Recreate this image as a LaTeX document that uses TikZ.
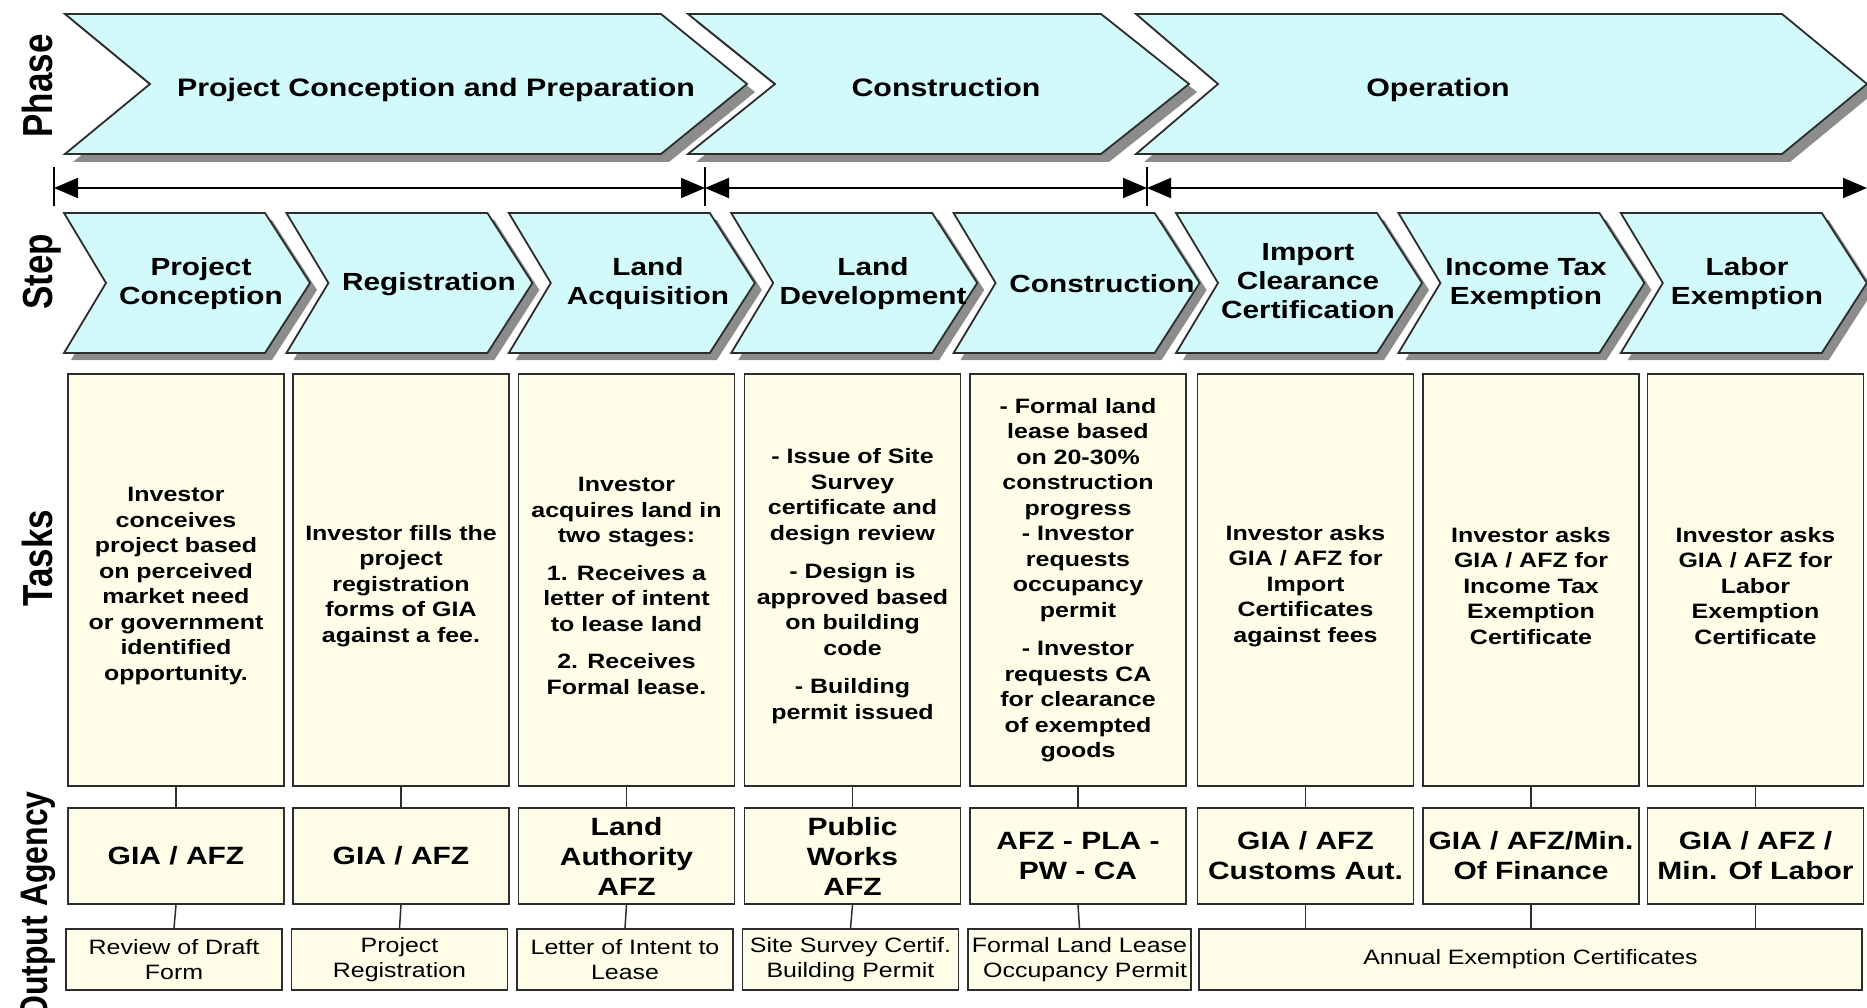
\documentclass[tikz,border=0pt]{standalone}
\usepackage{fontspec}
\usepackage{graphicx}
\setmainfont{Liberation Sans}
\newfontfamily\arst[FakeStretch=1.2]{Liberation Sans}
\usetikzlibrary{arrows.meta}
\definecolor{chevfill}{RGB}{210,250,250}
\definecolor{boxfill}{RGB}{253,253,232}
\definecolor{shadowc}{RGB}{140,140,140}
\definecolor{edgec}{RGB}{45,45,45}
\newcommand\FPh{\arst\bfseries\fontsize{25.3}{30}\selectfont}
\newcommand\FSt{\arst\bfseries\fontsize{24.8}{29}\selectfont}
\newcommand\FTk{\arst\bfseries\fontsize{20.8}{25.5}\selectfont}
\newcommand\FAg{\arst\bfseries\fontsize{25}{30}\selectfont}
\newcommand\FOu{\arst\fontsize{20.8}{25}\selectfont}
\newcommand\FLb{\bfseries\fontsize{35}{40}\selectfont}
\newcommand\FLbs{\bfseries\fontsize{32}{36}\selectfont}
\begin{document}
\begin{tikzpicture}[x=1pt,y=-1pt,
  chev/.style={draw=edgec, line width=1.8pt, fill=chevfill, line join=miter},
  shad/.style={fill=shadowc},
  phasetxt/.style={font=\FPh, anchor=base, inner sep=0pt},
  steptxt/.style={font=\FSt, align=center, inner sep=0pt},
  lbl/.style={rotate=90, anchor=base, inner sep=0pt},
  taskbox/.style={draw=edgec, line width=1.8pt, fill=boxfill, minimum width=216pt, minimum height=412pt, inner sep=0pt},
  tasktxt/.style={font=\FTk, align=center, inner sep=0pt},
  agbox/.style={draw=edgec, line width=1.8pt, fill=boxfill, minimum width=216pt, minimum height=96pt, inner sep=1pt, align=center, font=\FAg},
  outbox/.style={draw=edgec, line width=1.6pt, fill=boxfill, minimum width=216pt, minimum height=61pt, inner sep=1pt, align=center, font=\FOu},
  conn/.style={draw=edgec, line width=1.5pt},
  dim/.style={line width=2pt, {Triangle[length=24pt,width=20pt]}-{Triangle[length=24pt,width=20pt]}},
  tick/.style={line width=1.5pt}
]
\useasboundingbox (0,0) rectangle (1867,1008);
\fill[white] (0,0) rectangle (1867,1008);

% ---------- Phase chevrons ----------
\fill[shad, shift={(8,8)}] (65,14) -- (661,14) -- (747,84) -- (661,154) -- (65,154) -- (150,84) -- cycle;
\fill[shad, shift={(8,8)}] (688,14) -- (1101,14) -- (1189,84) -- (1101,154) -- (688,154) -- (775,84) -- cycle;
\fill[shad, shift={(8,8)}] (1136,14) -- (1782,14) -- (1867,84) -- (1782,154) -- (1136,154) -- (1218,84) -- cycle;
\draw[chev] (65,14) -- (661,14) -- (747,84) -- (661,154) -- (65,154) -- (150,84) -- cycle;
\draw[chev] (688,14) -- (1101,14) -- (1189,84) -- (1101,154) -- (688,154) -- (775,84) -- cycle;
\draw[chev] (1136,14) -- (1782,14) -- (1867,84) -- (1782,154) -- (1136,154) -- (1218,84) -- cycle;
\node[phasetxt] (p1) at (436,97) {Project Conception and Preparation};
\node[phasetxt] (p2) at (946,97) {Construction};
\node[phasetxt] (p3) at (1438,97) {Operation};

% ---------- dimension arrows ----------
\coordinate (a0) at (54,188);
\coordinate (a1) at (705,188);
\coordinate (a2) at (1147,188);
\coordinate (a3) at (1867,188);
\draw[dim] (a0) -- (a1);
\draw[dim] (a1) -- (a2);
\draw[dim] (a2) -- (a3);
\draw[tick] ([yshift=21pt]a0) -- ([yshift=-18pt]a0);
\draw[tick] ([yshift=21pt]a1) -- ([yshift=-18pt]a1);
\draw[tick] ([yshift=21pt]a2) -- ([yshift=-18pt]a2);

% ---------- Step chevrons ----------
\foreach \i in {0,...,7}{
  \pgfmathsetmacro\L{64+222.4*\i}
  \fill[shad,shift={(7,7)}] (\L,213) -- ++(201,0) -- ++(45,70) -- ++(-45,70) -- ++(-201,0) -- ++(42,-70) -- cycle;
}
\foreach \i in {0,...,7}{
  \pgfmathsetmacro\L{64+222.4*\i}
  \draw[chev] (\L,213) -- ++(201,0) -- ++(45,70) -- ++(-45,70) -- ++(-201,0) -- ++(42,-70) -- cycle;
}
\node[steptxt] (s1) at (201,284) {Project\\Conception};
\node[steptxt] (s2) at (429,284) {Registration};
\node[steptxt] (s3) at (648,284) {Land\\Acquisition};
\node[steptxt] (s4) at (873,284) {Land\\Development};
\node[steptxt] (s5) at (1102,284) {Construction};
\node[steptxt] (s6) at (1308,281) {Import\\Clearance\\Certification};
\node[steptxt] (s7) at (1526,284) {Income Tax\\Exemption};
\node[steptxt] (s8) at (1747,284) {Labor\\Exemption};

% ---------- row labels ----------
\node[lbl, font=\FLb] (lphase) at (52,86) {\scalebox{1}[1.2]{Phase}};
\node[lbl, font=\FLb] (lstep) at (52,272) {\scalebox{1}[1.2]{Step}};
\node[lbl, font=\FLb] (ltasks) at (52,558) {\scalebox{1}[1.2]{Tasks}};
\node[lbl, font=\FLbs] (lout) at (47,906) {\scalebox{1}[1.2]{Output Agency}};

% ---------- Tasks ----------
\node[taskbox] (tk1) at (176,580) {};
\node[taskbox] (tk2) at (401,580) {};
\node[taskbox] (tk3) at (626.5,580) {};
\node[taskbox] (tk4) at (852.5,580) {};
\node[taskbox] (tk5) at (1078,580) {};
\node[taskbox] (tk6) at (1305.5,580) {};
\node[taskbox] (tk7) at (1531,580) {};
\node[taskbox] (tk8) at (1755.5,580) {};

\node[tasktxt] (tt1) at (176,586) {Investor\\conceives\\project based\\on perceived\\market need\\or government\\identified\\opportunity.};
\node[tasktxt] (tt2) at (401,586) {Investor fills the\\project\\registration\\forms of GIA\\against a fee.};
\node[tasktxt] (tt3) at (626.5,586) {Investor\\acquires land in\\two stages:\\[12pt]1. Receives a\\letter of intent\\to lease land\\[12pt]2. Receives\\Formal lease.};
\node[tasktxt] (tt4) at (852.5,586) {- Issue of Site\\Survey\\certificate and\\design review\\[13pt]- Design is\\approved based\\on building\\code\\[13pt]- Building\\permit issued};
\node[tasktxt] (tt5) at (1078,580) {- Formal land\\lease based\\on 20-30\%\\construction\\progress\\- Investor\\requests\\occupancy\\permit\\[13pt]- Investor\\requests CA\\for clearance\\of exempted\\goods};
\node[tasktxt] (tt6) at (1305.5,586) {Investor asks\\GIA / AFZ for\\Import\\Certificates\\against fees};
\node[tasktxt] (tt7) at (1531,586) {Investor asks\\GIA / AFZ for\\Income Tax\\Exemption\\Certificate};
\node[tasktxt] (tt8) at (1755.5,586) {Investor asks\\GIA / AFZ for\\Labor\\Exemption\\Certificate};

% ---------- Agencies ----------
\node[agbox] (ag1) at (176,856) {GIA / AFZ};
\node[agbox] (ag2) at (401,856) {GIA / AFZ};
\node[agbox] (ag3) at (626.5,856) {Land\\Authority\\AFZ};
\node[agbox] (ag4) at (852.5,856) {Public\\Works\\AFZ};
\node[agbox] (ag5) at (1078,856) {AFZ - PLA -\\PW - CA};
\node[agbox] (ag6) at (1305.5,856) {GIA / AFZ\\Customs Aut.};
\node[agbox] (ag7) at (1531,856) {GIA / AFZ/Min.\\Of Finance};
\node[agbox] (ag8) at (1755.5,856) {GIA / AFZ /\\Min. Of Labor};

% ---------- Outputs ----------
\node[outbox] (o1) at (174,959.5) {Review of Draft\\Form};
\node[outbox] (o2) at (399.5,959.5) {Project\\Registration};
\node[outbox] (o3) at (625,959.5) {Letter of Intent to\\Lease};
\node[outbox] (o4) at (850.5,959.5) {Site Survey Certif.\\Building Permit};
\node[outbox, minimum width=223pt, align=right] (o5) at (1079.5,959.5) {Formal Land Lease\\Occupancy Permit};
\node[outbox, minimum width=663pt] (o6) at (1530.5,959.5) {Annual Exemption Certificates};

% ---------- connectors ----------
\foreach \i in {1,...,8} \draw[conn] (tk\i.south) -- (ag\i.north);
\foreach \i in {1,...,5} \draw[conn] (ag\i.south) -- (o\i.north);
\foreach \i in {6,7,8} \draw[conn] (ag\i.south) -- (ag\i.south |- o6.north);
\end{tikzpicture}
\end{document}
